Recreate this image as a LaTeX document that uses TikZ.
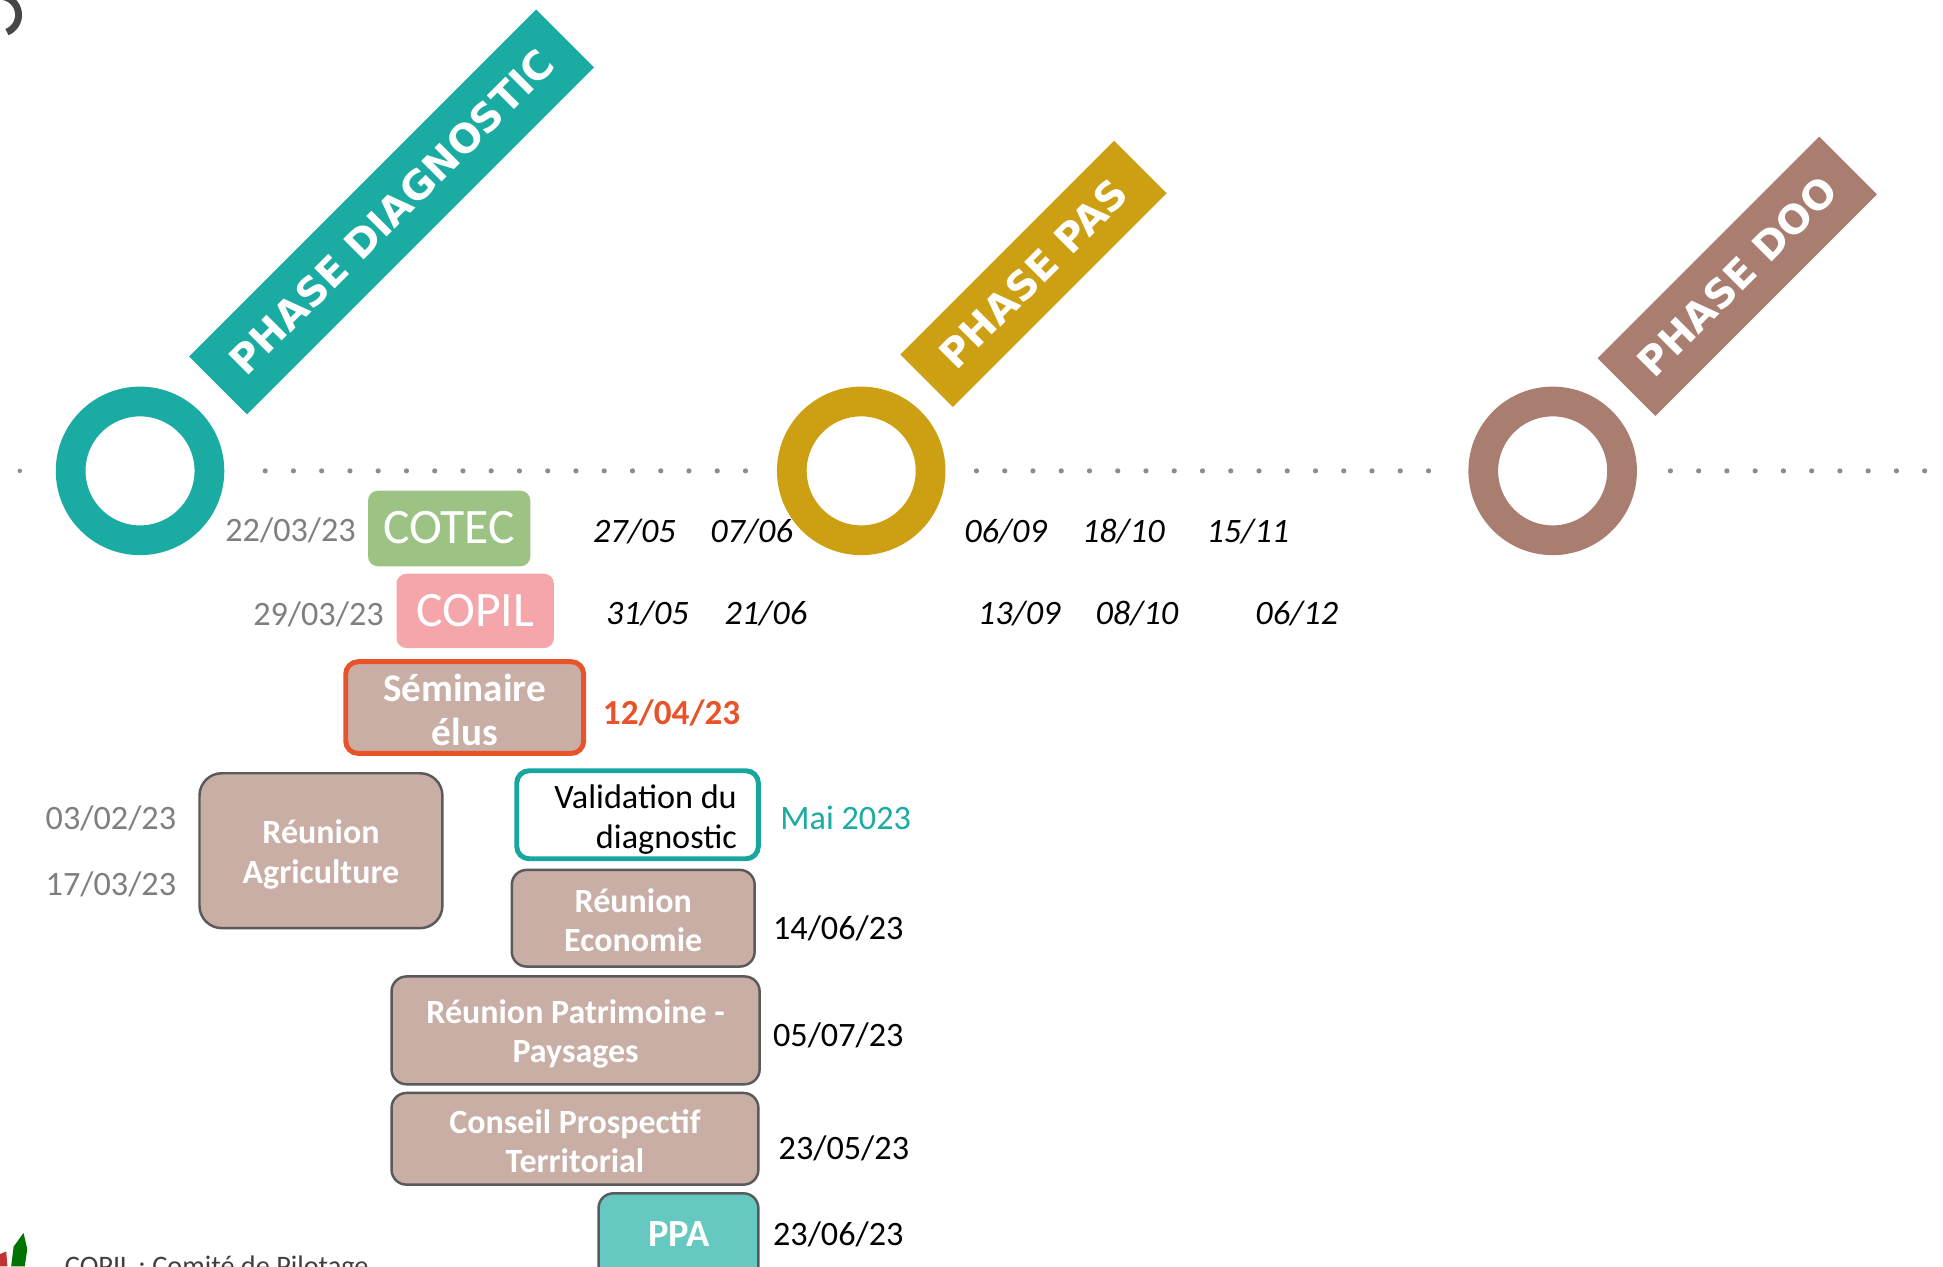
\documentclass[tikz,border=0pt]{standalone}
\usepackage{fontspec}
\setmainfont{Carlito}
\newfontfamily\banfont{DejaVu Sans}
\definecolor{cteal}{HTML}{1AABA3}
\definecolor{cgold}{HTML}{CCA012}
\definecolor{cbrown}{HTML}{A97E71}
\definecolor{cgreen}{HTML}{9DC384}
\definecolor{cpink}{HTML}{F4A6AB}
\definecolor{cbox}{HTML}{C8AEA5}
\definecolor{cborder}{HTML}{5A5A5A}
\definecolor{corange}{HTML}{E8532A}
\definecolor{cppa}{HTML}{66C9C1}
\definecolor{cgraytxt}{HTML}{7F7F7F}
\definecolor{cdot}{HTML}{8C8C8C}
\definecolor{cval}{HTML}{18A79E}
\begin{document}
\begin{tikzpicture}[x=0.5pt,y=-0.5pt,
  ring/.style={line width=12pt},
  banner/.style={rotate=45, text=white, inner sep=0pt,
    font={\banfont\fontsize{16}{18}\selectfont\bfseries}},
  dotmark/.style={fill=cdot},
  datebase/.style={inner sep=0pt, text height=0.63em, text depth=0pt, yshift=-1.75pt},
  graydate/.style={datebase, text=cgraytxt, font=\fontsize{13.8}{16}\selectfont},
  blackdate/.style={datebase, text=black, font=\fontsize{13.8}{16}\selectfont},
  itdate/.style={datebase, text=black, font=\fontsize{13.8}{16}\selectfont\itshape},
  meetbox/.style={draw=cborder, line width=1pt, fill=cbox, rounded corners=6pt, inner sep=0pt},
  boxtext/.style={text=white, align=center, inner sep=0pt,
    font=\fontsize{13.7}{16}\selectfont\bfseries},
  comitebox/.style={rounded corners=4pt, text=white, inner sep=0pt,
    font=\fontsize{20}{22}\selectfont},
]
\useasboundingbox (0,0) rectangle (1568,1022);
\clip (0,0) rectangle (1568,1022);
\fill[white] (0,0) rectangle (1568,1022);

% top-left partial ring
\draw[line width=2.8pt, color=black!72] (0,12) ++(-95:15) arc[start angle=-95, end angle=68, radius=15];

% dotted timeline
\fill[dotmark] (16,380) circle[radius=1.8];
\foreach \i in {0,...,17} \fill[dotmark] (214+22.8*\i,380) circle[radius=2.1];
\foreach \i in {0,...,16} \fill[dotmark] (788+22.8*\i,380) circle[radius=2.1];
\foreach \i in {0,...,9} \fill[dotmark] (1348+22.8*\i,380) circle[radius=2.1];

% phase rings
\draw[ring, cteal] (113,380) circle[radius=56];
\draw[ring, cgold] (695,380) circle[radius=56];
\draw[ring, cbrown] (1253,380) circle[radius=56];

% phase banners
\node[banner, fill=cteal, minimum width=198pt, minimum height=33pt] (bdiag) at (316,171) {PHASE DIAGNOSTIC};
\node[banner, fill=cgold, minimum width=122pt, minimum height=30pt] (bpas) at (834,221) {PHASE PAS};
\node[banner, fill=cbrown, minimum width=126.5pt, minimum height=33pt] (bdoo) at (1402,223) {PHASE DOO};

% COTEC / COPIL
\node[comitebox, fill=cgreen, minimum width=65.5pt, minimum height=30.5pt] (cotec) at (362.5,426.5) {\raisebox{1pt}{COTEC}};
\node[comitebox, fill=cpink, minimum width=63.5pt, minimum height=30pt] (copil) at (383.5,493) {COPIL};
\node[graydate] (dcotec) at (234.5,427) {22/03/23};
\node[graydate] (dcopil) at (257,495) {29/03/23};

% italic dates
\node[itdate] (r1a) at (512,428) {27/05};
\node[itdate] (r1b) at (606.5,428) {07/06};
\node[itdate] (r1c) at (811.5,428) {06/09};
\node[itdate] (r1d) at (906.5,428) {18/10};
\node[itdate] (r1e) at (1007,428) {15/11};
\node[itdate] (r2a) at (522.5,494) {31/05};
\node[itdate] (r2b) at (618,494) {21/06};
\node[itdate] (r2c) at (822.5,494) {13/09};
\node[itdate] (r2d) at (917.5,494) {08/10};
\node[itdate] (r2e) at (1046.5,494) {06/12};

% seminaire
\node[meetbox, draw=corange, line width=2pt, rounded corners=5pt, minimum width=96pt, minimum height=37pt] (semi) at (375,571) {};
\node[boxtext, font=\fontsize{15.8}{18}\selectfont\bfseries] (semitxt) at ([yshift=-1pt]semi.center) {Séminaire\\élus};
\node[datebase, text=corange, font=\fontsize{14.2}{16}\selectfont\bfseries] (dsemi) at (542,575) {12/04/23};

% agriculture
\node[meetbox, rounded corners=9pt, minimum width=98pt, minimum height=62.5pt] (agri) at (259,686.5) {};
\node[boxtext] (agritxt) at ([yshift=-1.5pt]agri.center) {Réunion\\Agriculture};
\node[graydate] (dagri1) at (89.5,660) {03/02/23};
\node[graydate] (dagri2) at (89.5,713) {17/03/23};

% validation
\node[draw=cval, line width=2pt, fill=white, rounded corners=5pt, minimum width=97.5pt, minimum height=35.5pt,
  inner sep=0pt] (valid) at (514.5,657.5) {};
\node[anchor=east, align=right, inner sep=0pt, font=\fontsize{13.8}{16}\selectfont] (validtxt) at ([xshift=-9.5pt,yshift=-2pt]valid.east) {Validation du\\diagnostic};
\node[datebase, text=cteal, font=\fontsize{13.8}{16}\selectfont] (dvalid) at (682.5,660) {Mai 2023};

% economie
\node[meetbox, minimum width=98pt, minimum height=39pt] (eco) at (511,741) {};
\node[boxtext] (ecotxt) at ([yshift=-0.8pt]eco.center) {Réunion\\Economie};
\node[blackdate] (deco) at (676.5,748) {14/06/23};

% patrimoine
\node[meetbox, minimum width=148.5pt, minimum height=43.5pt] (patri) at (464.5,831.5) {};
\node[boxtext] (patritxt) at ([yshift=-1.5pt]patri.center) {Réunion Patrimoine -\\Paysages};
\node[blackdate] (dpatri) at (676.5,835) {05/07/23};

% conseil
\node[meetbox, minimum width=148pt, minimum height=37pt] (cpt) at (464,919) {};
\node[boxtext] (cpttxt) at ([yshift=-1pt]cpt.center) {Conseil Prospectif\\Territorial};
\node[blackdate] (dcpt) at (681,926) {23/05/23};

% PPA
\node[meetbox, fill=cppa, minimum width=64.5pt, minimum height=41pt] (ppa) at (547.5,1004) {};
\node[text=white, inner sep=0pt, text height=0.63em, text depth=0pt, yshift=-2pt, font=\fontsize{15.5}{18}\selectfont\bfseries] (ppatxt) at (548,996) {PPA};
\node[blackdate] (dppa) at (676.5,995) {23/06/23};

% logo and legend
\fill[red!70!black!80] (0,1012) -- (5,1010) -- (6,1022) -- (0,1022) -- cycle;
\fill[green!45!black] (9,1022) -- (11,1006) -- (19,995) -- (22,1008) -- (20,1022) -- cycle;
\node[anchor=base west, inner sep=0pt, text=black!75, font=\fontsize{11.4}{13}\selectfont] (legend) at (52,1029) {COPIL : Comité de Pilotage};
\end{tikzpicture}
\end{document}
